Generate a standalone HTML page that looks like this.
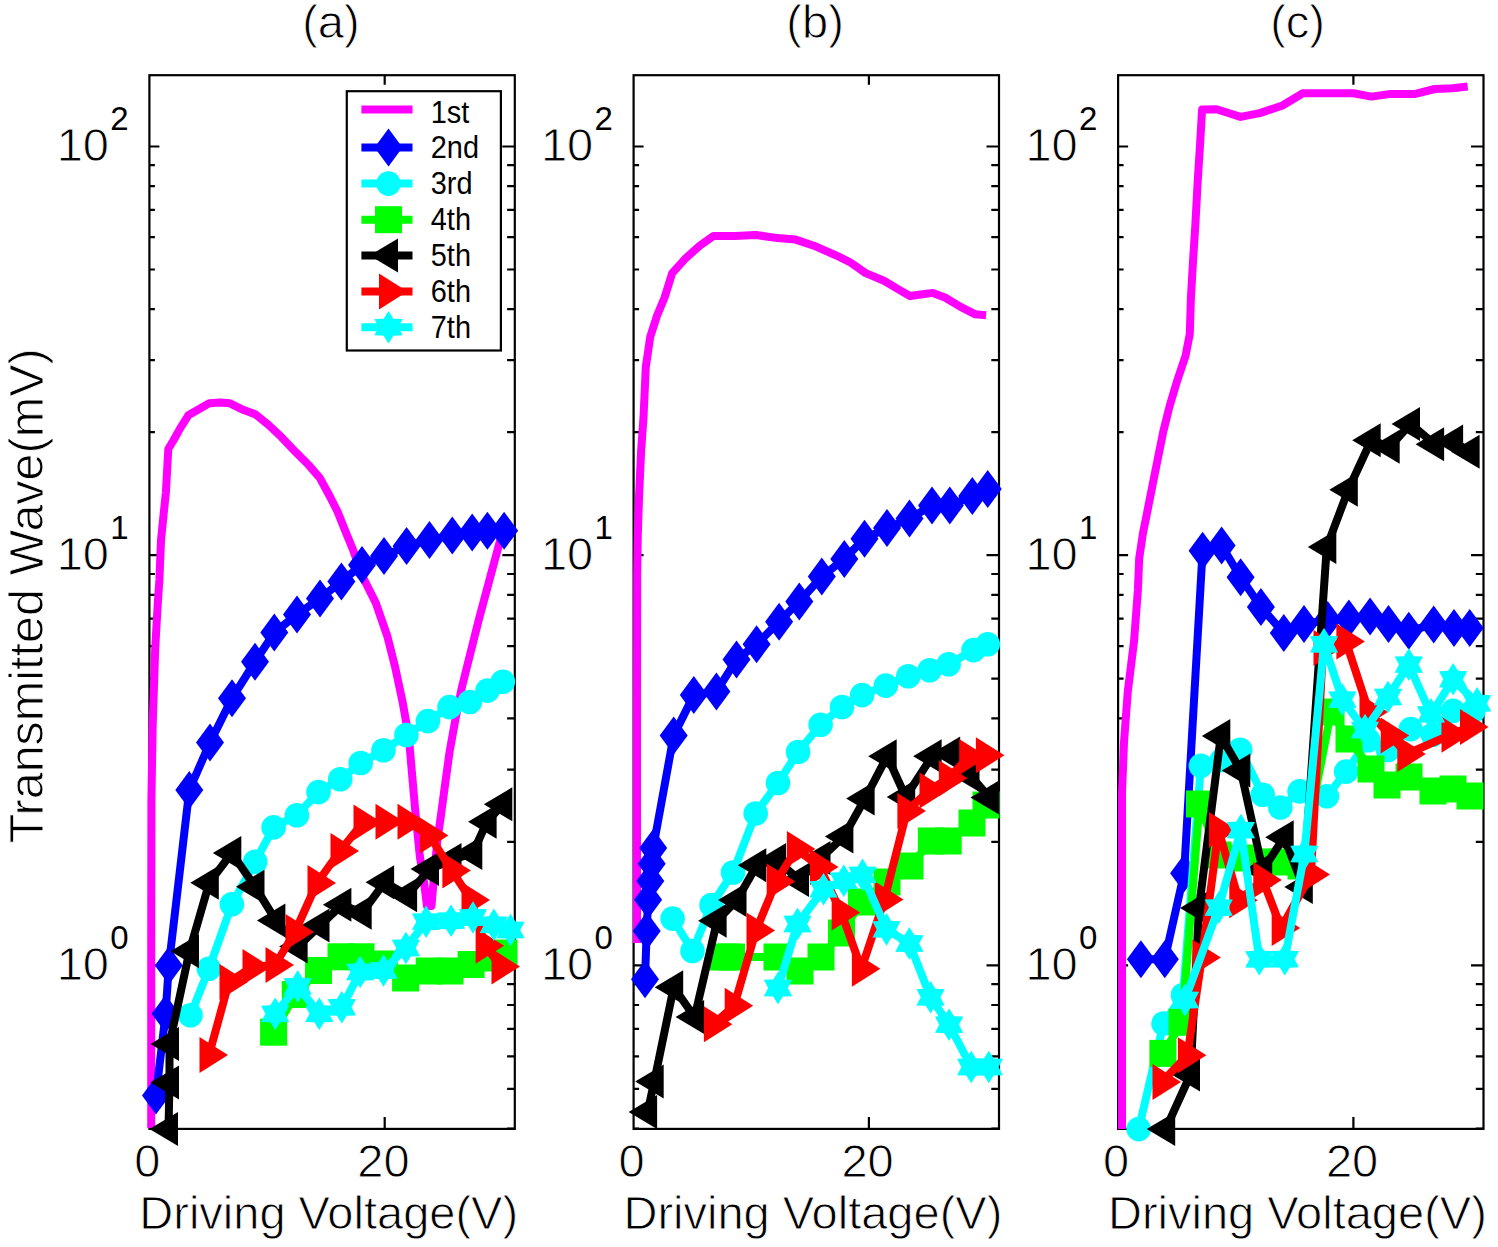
<!DOCTYPE html><html><head><meta charset="utf-8"><style>html,body{margin:0;padding:0;background:#fff;overflow:hidden}svg{display:block}</style></head><body><svg width="1498" height="1247" viewBox="0 0 1498 1247">
<defs>
<path id="dia" d="M0,-19 L14,0 L0,19 L-14,0Z"/>
<circle id="cir" cx="0" cy="0" r="12.3"/>
<rect id="sq" x="-13.5" y="-13.5" width="27" height="27"/>
<path id="tl" d="M-19,0 L9.5,-17 L9.5,17Z"/>
<path id="tr" d="M19,0 L-9.5,-18 L-9.5,18Z"/>
<path id="hex" d="M0.00,-16.30 L4.89,-8.47 L14.12,-8.15 L9.78,-0.00 L14.12,8.15 L4.89,8.47 L0.00,16.30 L-4.89,8.47 L-14.12,8.15 L-9.78,0.00 L-14.12,-8.15 L-4.89,-8.47Z"/>
</defs>
<rect x="0" y="0" width="1498" height="1247" fill="#fff"/>
<path d="M149.4,965.3h10 M514.8,965.3h-12.5 M149.4,555.2h10 M514.8,555.2h-12.5 M149.4,146.5h10 M514.8,146.5h-12.5 M149.4,1128.5h5.5 M514.8,1128.5h-7.7 M149.4,1088.8h5.5 M514.8,1088.8h-7.7 M149.4,1056.3h5.5 M514.8,1056.3h-7.7 M149.4,1028.8h5.5 M514.8,1028.8h-7.7 M149.4,1005.0h5.5 M514.8,1005.0h-7.7 M149.4,984.1h5.5 M514.8,984.1h-7.7 M149.4,841.8h5.5 M514.8,841.8h-7.7 M149.4,769.6h5.5 M514.8,769.6h-7.7 M149.4,718.4h5.5 M514.8,718.4h-7.7 M149.4,678.7h5.5 M514.8,678.7h-7.7 M149.4,646.2h5.5 M514.8,646.2h-7.7 M149.4,618.7h5.5 M514.8,618.7h-7.7 M149.4,594.9h5.5 M514.8,594.9h-7.7 M149.4,574.0h5.5 M514.8,574.0h-7.7 M149.4,432.2h5.5 M514.8,432.2h-7.7 M149.4,360.2h5.5 M514.8,360.2h-7.7 M149.4,309.1h5.5 M514.8,309.1h-7.7 M149.4,269.5h5.5 M514.8,269.5h-7.7 M149.4,237.2h5.5 M514.8,237.2h-7.7 M149.4,209.8h5.5 M514.8,209.8h-7.7 M149.4,186.1h5.5 M514.8,186.1h-7.7 M149.4,165.2h5.5 M514.8,165.2h-7.7 M384.7,1128.9v-12 M384.7,75.2v9.5" stroke="#000" stroke-width="2.2" fill="none"/>
<rect x="149.4" y="75.2" width="365.4" height="1053.7" fill="none" stroke="#000" stroke-width="2.2"/>
<text x="56.7" y="980.0" font-size="47" font-family="Liberation Sans, sans-serif" stroke="#fff" stroke-width="0.9">10</text>
<text x="110.3" y="949.0" font-size="33" font-family="Liberation Sans, sans-serif">0</text>
<text x="56.7" y="569.9" font-size="47" font-family="Liberation Sans, sans-serif" stroke="#fff" stroke-width="0.9">10</text>
<text x="110.3" y="538.9" font-size="33" font-family="Liberation Sans, sans-serif">1</text>
<text x="56.7" y="161.2" font-size="47" font-family="Liberation Sans, sans-serif" stroke="#fff" stroke-width="0.9">10</text>
<text x="110.3" y="130.2" font-size="33" font-family="Liberation Sans, sans-serif">2</text>
<text x="147.4" y="1176.5" font-size="47" text-anchor="middle" font-family="Liberation Sans, sans-serif" stroke="#fff" stroke-width="0.9">0</text>
<text x="383.4" y="1176.5" font-size="47" text-anchor="middle" font-family="Liberation Sans, sans-serif" stroke="#fff" stroke-width="0.9">20</text>
<text x="330.9" y="37.6" font-size="47" text-anchor="middle" font-family="Liberation Sans, sans-serif" stroke="#fff" stroke-width="0.9">(a)</text>
<text x="139.3" y="1229" font-size="47" font-family="Liberation Sans, sans-serif" stroke="#fff" stroke-width="0.9">Driving Voltage(V)</text>
<path d="M633.6,965.3h10 M999.0,965.3h-12.5 M633.6,555.2h10 M999.0,555.2h-12.5 M633.6,146.5h10 M999.0,146.5h-12.5 M633.6,1128.5h5.5 M999.0,1128.5h-7.7 M633.6,1088.8h5.5 M999.0,1088.8h-7.7 M633.6,1056.3h5.5 M999.0,1056.3h-7.7 M633.6,1028.8h5.5 M999.0,1028.8h-7.7 M633.6,1005.0h5.5 M999.0,1005.0h-7.7 M633.6,984.1h5.5 M999.0,984.1h-7.7 M633.6,841.8h5.5 M999.0,841.8h-7.7 M633.6,769.6h5.5 M999.0,769.6h-7.7 M633.6,718.4h5.5 M999.0,718.4h-7.7 M633.6,678.7h5.5 M999.0,678.7h-7.7 M633.6,646.2h5.5 M999.0,646.2h-7.7 M633.6,618.7h5.5 M999.0,618.7h-7.7 M633.6,594.9h5.5 M999.0,594.9h-7.7 M633.6,574.0h5.5 M999.0,574.0h-7.7 M633.6,432.2h5.5 M999.0,432.2h-7.7 M633.6,360.2h5.5 M999.0,360.2h-7.7 M633.6,309.1h5.5 M999.0,309.1h-7.7 M633.6,269.5h5.5 M999.0,269.5h-7.7 M633.6,237.2h5.5 M999.0,237.2h-7.7 M633.6,209.8h5.5 M999.0,209.8h-7.7 M633.6,186.1h5.5 M999.0,186.1h-7.7 M633.6,165.2h5.5 M999.0,165.2h-7.7 M868.9,1128.9v-12 M868.9,75.2v9.5" stroke="#000" stroke-width="2.2" fill="none"/>
<rect x="633.6" y="75.2" width="365.4" height="1053.7" fill="none" stroke="#000" stroke-width="2.2"/>
<text x="540.9" y="980.0" font-size="47" font-family="Liberation Sans, sans-serif" stroke="#fff" stroke-width="0.9">10</text>
<text x="594.5" y="949.0" font-size="33" font-family="Liberation Sans, sans-serif">0</text>
<text x="540.9" y="569.9" font-size="47" font-family="Liberation Sans, sans-serif" stroke="#fff" stroke-width="0.9">10</text>
<text x="594.5" y="538.9" font-size="33" font-family="Liberation Sans, sans-serif">1</text>
<text x="540.9" y="161.2" font-size="47" font-family="Liberation Sans, sans-serif" stroke="#fff" stroke-width="0.9">10</text>
<text x="594.5" y="130.2" font-size="33" font-family="Liberation Sans, sans-serif">2</text>
<text x="631.6" y="1176.5" font-size="47" text-anchor="middle" font-family="Liberation Sans, sans-serif" stroke="#fff" stroke-width="0.9">0</text>
<text x="867.6" y="1176.5" font-size="47" text-anchor="middle" font-family="Liberation Sans, sans-serif" stroke="#fff" stroke-width="0.9">20</text>
<text x="815.1" y="37.6" font-size="47" text-anchor="middle" font-family="Liberation Sans, sans-serif" stroke="#fff" stroke-width="0.9">(b)</text>
<text x="623.5" y="1229" font-size="47" font-family="Liberation Sans, sans-serif" stroke="#fff" stroke-width="0.9">Driving Voltage(V)</text>
<path d="M1118.1,965.3h10 M1483.5,965.3h-12.5 M1118.1,555.2h10 M1483.5,555.2h-12.5 M1118.1,146.5h10 M1483.5,146.5h-12.5 M1118.1,1128.5h5.5 M1483.5,1128.5h-7.7 M1118.1,1088.8h5.5 M1483.5,1088.8h-7.7 M1118.1,1056.3h5.5 M1483.5,1056.3h-7.7 M1118.1,1028.8h5.5 M1483.5,1028.8h-7.7 M1118.1,1005.0h5.5 M1483.5,1005.0h-7.7 M1118.1,984.1h5.5 M1483.5,984.1h-7.7 M1118.1,841.8h5.5 M1483.5,841.8h-7.7 M1118.1,769.6h5.5 M1483.5,769.6h-7.7 M1118.1,718.4h5.5 M1483.5,718.4h-7.7 M1118.1,678.7h5.5 M1483.5,678.7h-7.7 M1118.1,646.2h5.5 M1483.5,646.2h-7.7 M1118.1,618.7h5.5 M1483.5,618.7h-7.7 M1118.1,594.9h5.5 M1483.5,594.9h-7.7 M1118.1,574.0h5.5 M1483.5,574.0h-7.7 M1118.1,432.2h5.5 M1483.5,432.2h-7.7 M1118.1,360.2h5.5 M1483.5,360.2h-7.7 M1118.1,309.1h5.5 M1483.5,309.1h-7.7 M1118.1,269.5h5.5 M1483.5,269.5h-7.7 M1118.1,237.2h5.5 M1483.5,237.2h-7.7 M1118.1,209.8h5.5 M1483.5,209.8h-7.7 M1118.1,186.1h5.5 M1483.5,186.1h-7.7 M1118.1,165.2h5.5 M1483.5,165.2h-7.7 M1353.4,1128.9v-12 M1353.4,75.2v9.5" stroke="#000" stroke-width="2.2" fill="none"/>
<rect x="1118.1" y="75.2" width="365.4" height="1053.7" fill="none" stroke="#000" stroke-width="2.2"/>
<text x="1025.4" y="980.0" font-size="47" font-family="Liberation Sans, sans-serif" stroke="#fff" stroke-width="0.9">10</text>
<text x="1079.0" y="949.0" font-size="33" font-family="Liberation Sans, sans-serif">0</text>
<text x="1025.4" y="569.9" font-size="47" font-family="Liberation Sans, sans-serif" stroke="#fff" stroke-width="0.9">10</text>
<text x="1079.0" y="538.9" font-size="33" font-family="Liberation Sans, sans-serif">1</text>
<text x="1025.4" y="161.2" font-size="47" font-family="Liberation Sans, sans-serif" stroke="#fff" stroke-width="0.9">10</text>
<text x="1079.0" y="130.2" font-size="33" font-family="Liberation Sans, sans-serif">2</text>
<text x="1116.1" y="1176.5" font-size="47" text-anchor="middle" font-family="Liberation Sans, sans-serif" stroke="#fff" stroke-width="0.9">0</text>
<text x="1352.1" y="1176.5" font-size="47" text-anchor="middle" font-family="Liberation Sans, sans-serif" stroke="#fff" stroke-width="0.9">20</text>
<text x="1297.6" y="37.6" font-size="47" text-anchor="middle" font-family="Liberation Sans, sans-serif" stroke="#fff" stroke-width="0.9">(c)</text>
<text x="1108.0" y="1229" font-size="47" font-family="Liberation Sans, sans-serif" stroke="#fff" stroke-width="0.9">Driving Voltage(V)</text>
<text transform="translate(42.5,843.3) rotate(-90)" font-size="48.5" font-family="Liberation Sans, sans-serif" stroke="#fff" stroke-width="0.9">Transmitted Wave(mV)</text>
<polyline points="151.2,1128.3 151.2,960.0 151.4,800.0 152.7,725.0 155.2,648.8 157.8,603.0 159.4,580.0 161.0,540.4 163.4,516.3 165.9,492.3 167.5,463.4 168.3,449.0 173.1,441.0 180.3,428.1 188.3,415.3 197.9,409.7 209.2,403.3 220.4,402.5 230.0,403.3 241.2,408.9 255.7,414.5 268.5,424.9 281.3,436.9 295.8,452.2 308.6,465.0 319.8,477.8 329.4,495.5 337.5,511.5 343.9,527.6 353.3,550.6 363.2,577.8 375.9,603.1 387.3,636.1 395.0,666.5 402.6,702.0 408.9,737.6 415.0,808.0 419.8,856.0 424.0,882.0 427.0,906.0 431.5,906.0 433.5,882.0 437.4,840.0 440.5,818.6 445.0,785.1 449.6,751.6 455.7,718.0 461.8,687.6 469.4,657.1 478.6,620.5 489.2,580.9 499.9,541.3 503.0,536.0" fill="none" stroke="#ff00ff" stroke-width="8" stroke-linejoin="round" stroke-linecap="butt"/>
<polyline points="156.0,1095.4 165.6,1013.7 168.8,965.6 189.3,790.0 210.0,742.6 232.0,698.3 255.0,661.7 274.3,632.6 297.0,614.5 320.0,598.6 341.4,581.4 362.0,565.0 384.0,556.0 406.6,546.1 429.5,540.0 452.3,535.4 472.2,532.4 487.4,530.8 504.1,530.8" fill="none" stroke="#0000ff" stroke-width="8" stroke-linejoin="round" stroke-linecap="butt"/>
<use href="#dia" x="156.0" y="1095.4" fill="#0000ff"/>
<use href="#dia" x="165.6" y="1013.7" fill="#0000ff"/>
<use href="#dia" x="168.8" y="965.6" fill="#0000ff"/>
<use href="#dia" x="189.3" y="790.0" fill="#0000ff"/>
<use href="#dia" x="210.0" y="742.6" fill="#0000ff"/>
<use href="#dia" x="232.0" y="698.3" fill="#0000ff"/>
<use href="#dia" x="255.0" y="661.7" fill="#0000ff"/>
<use href="#dia" x="274.3" y="632.6" fill="#0000ff"/>
<use href="#dia" x="297.0" y="614.5" fill="#0000ff"/>
<use href="#dia" x="320.0" y="598.6" fill="#0000ff"/>
<use href="#dia" x="341.4" y="581.4" fill="#0000ff"/>
<use href="#dia" x="362.0" y="565.0" fill="#0000ff"/>
<use href="#dia" x="384.0" y="556.0" fill="#0000ff"/>
<use href="#dia" x="406.6" y="546.1" fill="#0000ff"/>
<use href="#dia" x="429.5" y="540.0" fill="#0000ff"/>
<use href="#dia" x="452.3" y="535.4" fill="#0000ff"/>
<use href="#dia" x="472.2" y="532.4" fill="#0000ff"/>
<use href="#dia" x="487.4" y="530.8" fill="#0000ff"/>
<use href="#dia" x="504.1" y="530.8" fill="#0000ff"/>
<polyline points="190.5,1015.3 208.9,968.8 231.9,904.3 255.2,861.8 273.6,827.4 296.9,815.3 318.5,792.1 340.2,779.2 360.7,763.0 383.5,750.3 406.4,735.0 427.9,721.1 449.5,707.1 469.8,702.0 487.5,690.6 502.8,681.8" fill="none" stroke="#00ffff" stroke-width="8" stroke-linejoin="round" stroke-linecap="butt"/>
<use href="#cir" x="190.5" y="1015.3" fill="#00ffff"/>
<use href="#cir" x="208.9" y="968.8" fill="#00ffff"/>
<use href="#cir" x="231.9" y="904.3" fill="#00ffff"/>
<use href="#cir" x="255.2" y="861.8" fill="#00ffff"/>
<use href="#cir" x="273.6" y="827.4" fill="#00ffff"/>
<use href="#cir" x="296.9" y="815.3" fill="#00ffff"/>
<use href="#cir" x="318.5" y="792.1" fill="#00ffff"/>
<use href="#cir" x="340.2" y="779.2" fill="#00ffff"/>
<use href="#cir" x="360.7" y="763.0" fill="#00ffff"/>
<use href="#cir" x="383.5" y="750.3" fill="#00ffff"/>
<use href="#cir" x="406.4" y="735.0" fill="#00ffff"/>
<use href="#cir" x="427.9" y="721.1" fill="#00ffff"/>
<use href="#cir" x="449.5" y="707.1" fill="#00ffff"/>
<use href="#cir" x="469.8" y="702.0" fill="#00ffff"/>
<use href="#cir" x="487.5" y="690.6" fill="#00ffff"/>
<use href="#cir" x="502.8" y="681.8" fill="#00ffff"/>
<polyline points="273.6,1032.2 295.3,994.5 318.5,970.5 341.0,956.8 361.0,956.8 384.3,964.0 405.6,978.0 429.2,971.0 450.0,971.0 471.1,964.5 490.0,958.0 504.0,953.0" fill="none" stroke="#00ff00" stroke-width="8" stroke-linejoin="round" stroke-linecap="butt"/>
<use href="#sq" x="273.6" y="1032.2" fill="#00ff00"/>
<use href="#sq" x="295.3" y="994.5" fill="#00ff00"/>
<use href="#sq" x="318.5" y="970.5" fill="#00ff00"/>
<use href="#sq" x="341.0" y="956.8" fill="#00ff00"/>
<use href="#sq" x="361.0" y="956.8" fill="#00ff00"/>
<use href="#sq" x="384.3" y="964.0" fill="#00ff00"/>
<use href="#sq" x="405.6" y="978.0" fill="#00ff00"/>
<use href="#sq" x="429.2" y="971.0" fill="#00ff00"/>
<use href="#sq" x="450.0" y="971.0" fill="#00ff00"/>
<use href="#sq" x="471.1" y="964.5" fill="#00ff00"/>
<use href="#sq" x="490.0" y="958.0" fill="#00ff00"/>
<use href="#sq" x="504.0" y="953.0" fill="#00ff00"/>
<polyline points="168.5,1129.0 169.5,1082.6 169.5,1044.0 189.5,951.2 209.3,882.7 231.8,853.0 255.0,886.7 275.9,920.4 298.1,946.4 320.0,925.6 341.9,904.8 362.2,912.8 384.6,882.3 407.6,895.2 429.5,869.0 452.0,860.0 472.8,853.0 487.1,821.7 502.8,804.3" fill="none" stroke="#000000" stroke-width="8" stroke-linejoin="round" stroke-linecap="butt"/>
<use href="#tl" x="168.5" y="1129.0" fill="#000000"/>
<use href="#tl" x="169.5" y="1082.6" fill="#000000"/>
<use href="#tl" x="169.5" y="1044.0" fill="#000000"/>
<use href="#tl" x="189.5" y="951.2" fill="#000000"/>
<use href="#tl" x="209.3" y="882.7" fill="#000000"/>
<use href="#tl" x="231.8" y="853.0" fill="#000000"/>
<use href="#tl" x="255.0" y="886.7" fill="#000000"/>
<use href="#tl" x="275.9" y="920.4" fill="#000000"/>
<use href="#tl" x="298.1" y="946.4" fill="#000000"/>
<use href="#tl" x="320.0" y="925.6" fill="#000000"/>
<use href="#tl" x="341.9" y="904.8" fill="#000000"/>
<use href="#tl" x="362.2" y="912.8" fill="#000000"/>
<use href="#tl" x="384.6" y="882.3" fill="#000000"/>
<use href="#tl" x="407.6" y="895.2" fill="#000000"/>
<use href="#tl" x="429.5" y="869.0" fill="#000000"/>
<use href="#tl" x="452.0" y="860.0" fill="#000000"/>
<use href="#tl" x="472.8" y="853.0" fill="#000000"/>
<use href="#tl" x="487.1" y="821.7" fill="#000000"/>
<use href="#tl" x="502.8" y="804.3" fill="#000000"/>
<polyline points="209.0,1055.0 229.0,982.0 252.0,967.0 275.0,965.0 295.0,932.0 317.0,883.0 340.0,851.0 363.0,822.5 385.0,821.7 407.0,821.7 429.4,835.4 451.9,870.6 471.0,900.0 485.1,945.7 501.0,966.5" fill="none" stroke="#ff0000" stroke-width="8" stroke-linejoin="round" stroke-linecap="butt"/>
<use href="#tr" x="209.0" y="1055.0" fill="#ff0000"/>
<use href="#tr" x="229.0" y="982.0" fill="#ff0000"/>
<use href="#tr" x="252.0" y="967.0" fill="#ff0000"/>
<use href="#tr" x="275.0" y="965.0" fill="#ff0000"/>
<use href="#tr" x="295.0" y="932.0" fill="#ff0000"/>
<use href="#tr" x="317.0" y="883.0" fill="#ff0000"/>
<use href="#tr" x="340.0" y="851.0" fill="#ff0000"/>
<use href="#tr" x="363.0" y="822.5" fill="#ff0000"/>
<use href="#tr" x="385.0" y="821.7" fill="#ff0000"/>
<use href="#tr" x="407.0" y="821.7" fill="#ff0000"/>
<use href="#tr" x="429.4" y="835.4" fill="#ff0000"/>
<use href="#tr" x="451.9" y="870.6" fill="#ff0000"/>
<use href="#tr" x="471.0" y="900.0" fill="#ff0000"/>
<use href="#tr" x="485.1" y="945.7" fill="#ff0000"/>
<use href="#tr" x="501.0" y="966.5" fill="#ff0000"/>
<polyline points="275.2,1013.8 297.7,986.5 319.3,1013.8 341.8,1007.3 360.2,972.0 383.5,970.5 405.9,948.0 426.1,921.7 451.1,920.7 473.0,917.5 493.8,924.8 510.5,930.0" fill="none" stroke="#00ffff" stroke-width="8" stroke-linejoin="round" stroke-linecap="butt"/>
<use href="#hex" x="275.2" y="1013.8" fill="#00ffff"/>
<use href="#hex" x="297.7" y="986.5" fill="#00ffff"/>
<use href="#hex" x="319.3" y="1013.8" fill="#00ffff"/>
<use href="#hex" x="341.8" y="1007.3" fill="#00ffff"/>
<use href="#hex" x="360.2" y="972.0" fill="#00ffff"/>
<use href="#hex" x="383.5" y="970.5" fill="#00ffff"/>
<use href="#hex" x="405.9" y="948.0" fill="#00ffff"/>
<use href="#hex" x="426.1" y="921.7" fill="#00ffff"/>
<use href="#hex" x="451.1" y="920.7" fill="#00ffff"/>
<use href="#hex" x="473.0" y="917.5" fill="#00ffff"/>
<use href="#hex" x="493.8" y="924.8" fill="#00ffff"/>
<use href="#hex" x="510.5" y="930.0" fill="#00ffff"/>
<polyline points="637.0,943.0 637.0,720.0 637.2,575.6 637.8,535.3 639.1,495.0 641.1,451.3 643.5,417.6 645.8,367.2 650.2,337.0 657.0,315.8 664.6,297.5 672.2,273.1 686.0,257.9 699.7,245.7 713.4,236.0 734.7,236.0 756.0,235.0 777.4,238.1 795.6,239.6 813.9,245.7 838.3,256.4 850.5,262.5 865.7,273.1 884.0,280.8 899.3,289.9 909.9,296.0 920.6,294.5 932.8,292.9 945.0,297.5 960.2,306.7 975.4,314.3 986.1,315.2" fill="none" stroke="#ff00ff" stroke-width="8" stroke-linejoin="round" stroke-linecap="butt"/>
<polyline points="645.0,979.3 646.7,930.9 648.1,899.8 650.3,881.1 651.7,863.7 653.2,847.9 673.7,735.4 693.8,695.1 716.4,691.6 736.5,659.6 756.6,644.2 779.1,621.7 799.3,601.5 821.8,576.6 844.3,558.9 864.5,538.7 887.0,528.1 909.5,518.6 932.0,505.5 949.8,505.5 972.3,496.1 987.7,489.0" fill="none" stroke="#0000ff" stroke-width="8" stroke-linejoin="round" stroke-linecap="butt"/>
<use href="#dia" x="645.0" y="979.3" fill="#0000ff"/>
<use href="#dia" x="646.7" y="930.9" fill="#0000ff"/>
<use href="#dia" x="648.1" y="899.8" fill="#0000ff"/>
<use href="#dia" x="650.3" y="881.1" fill="#0000ff"/>
<use href="#dia" x="651.7" y="863.7" fill="#0000ff"/>
<use href="#dia" x="653.2" y="847.9" fill="#0000ff"/>
<use href="#dia" x="673.7" y="735.4" fill="#0000ff"/>
<use href="#dia" x="693.8" y="695.1" fill="#0000ff"/>
<use href="#dia" x="716.4" y="691.6" fill="#0000ff"/>
<use href="#dia" x="736.5" y="659.6" fill="#0000ff"/>
<use href="#dia" x="756.6" y="644.2" fill="#0000ff"/>
<use href="#dia" x="779.1" y="621.7" fill="#0000ff"/>
<use href="#dia" x="799.3" y="601.5" fill="#0000ff"/>
<use href="#dia" x="821.8" y="576.6" fill="#0000ff"/>
<use href="#dia" x="844.3" y="558.9" fill="#0000ff"/>
<use href="#dia" x="864.5" y="538.7" fill="#0000ff"/>
<use href="#dia" x="887.0" y="528.1" fill="#0000ff"/>
<use href="#dia" x="909.5" y="518.6" fill="#0000ff"/>
<use href="#dia" x="932.0" y="505.5" fill="#0000ff"/>
<use href="#dia" x="949.8" y="505.5" fill="#0000ff"/>
<use href="#dia" x="972.3" y="496.1" fill="#0000ff"/>
<use href="#dia" x="987.7" y="489.0" fill="#0000ff"/>
<polyline points="672.6,918.6 692.5,951.0 711.5,905.0 733.0,872.5 755.7,813.5 778.0,783.0 798.1,752.0 820.6,724.7 842.0,707.0 862.1,695.1 885.8,685.6 908.3,676.2 929.6,670.2 948.6,664.3 973.5,650.1 987.7,644.2" fill="none" stroke="#00ffff" stroke-width="8" stroke-linejoin="round" stroke-linecap="butt"/>
<use href="#cir" x="672.6" y="918.6" fill="#00ffff"/>
<use href="#cir" x="692.5" y="951.0" fill="#00ffff"/>
<use href="#cir" x="711.5" y="905.0" fill="#00ffff"/>
<use href="#cir" x="733.0" y="872.5" fill="#00ffff"/>
<use href="#cir" x="755.7" y="813.5" fill="#00ffff"/>
<use href="#cir" x="778.0" y="783.0" fill="#00ffff"/>
<use href="#cir" x="798.1" y="752.0" fill="#00ffff"/>
<use href="#cir" x="820.6" y="724.7" fill="#00ffff"/>
<use href="#cir" x="842.0" y="707.0" fill="#00ffff"/>
<use href="#cir" x="862.1" y="695.1" fill="#00ffff"/>
<use href="#cir" x="885.8" y="685.6" fill="#00ffff"/>
<use href="#cir" x="908.3" y="676.2" fill="#00ffff"/>
<use href="#cir" x="929.6" y="670.2" fill="#00ffff"/>
<use href="#cir" x="948.6" y="664.3" fill="#00ffff"/>
<use href="#cir" x="973.5" y="650.1" fill="#00ffff"/>
<use href="#cir" x="987.7" y="644.2" fill="#00ffff"/>
<polyline points="723.5,957.0 731.5,957.0 777.0,957.0 800.0,971.0 821.0,957.0 841.5,933.0 861.4,902.0 887.0,882.0 910.0,866.0 931.4,841.0 948.2,841.0 972.0,823.0 986.0,805.0" fill="none" stroke="#00ff00" stroke-width="8" stroke-linejoin="round" stroke-linecap="butt"/>
<use href="#sq" x="723.5" y="957.0" fill="#00ff00"/>
<use href="#sq" x="731.5" y="957.0" fill="#00ff00"/>
<use href="#sq" x="777.0" y="957.0" fill="#00ff00"/>
<use href="#sq" x="800.0" y="971.0" fill="#00ff00"/>
<use href="#sq" x="821.0" y="957.0" fill="#00ff00"/>
<use href="#sq" x="841.5" y="933.0" fill="#00ff00"/>
<use href="#sq" x="861.4" y="902.0" fill="#00ff00"/>
<use href="#sq" x="887.0" y="882.0" fill="#00ff00"/>
<use href="#sq" x="910.0" y="866.0" fill="#00ff00"/>
<use href="#sq" x="931.4" y="841.0" fill="#00ff00"/>
<use href="#sq" x="948.2" y="841.0" fill="#00ff00"/>
<use href="#sq" x="972.0" y="823.0" fill="#00ff00"/>
<use href="#sq" x="986.0" y="805.0" fill="#00ff00"/>
<polyline points="647.6,1112.0 654.2,1081.6 673.7,987.3 694.6,1017.0 717.1,920.8 737.0,900.0 756.8,865.2 776.6,860.0 799.5,880.0 821.0,858.0 843.9,836.4 865.1,798.5 887.2,756.2 905.7,797.0 932.1,756.2 950.7,753.5 970.0,775.0 989.5,797.6" fill="none" stroke="#000000" stroke-width="8" stroke-linejoin="round" stroke-linecap="butt"/>
<use href="#tl" x="647.6" y="1112.0" fill="#000000"/>
<use href="#tl" x="654.2" y="1081.6" fill="#000000"/>
<use href="#tl" x="673.7" y="987.3" fill="#000000"/>
<use href="#tl" x="694.6" y="1017.0" fill="#000000"/>
<use href="#tl" x="717.1" y="920.8" fill="#000000"/>
<use href="#tl" x="737.0" y="900.0" fill="#000000"/>
<use href="#tl" x="756.8" y="865.2" fill="#000000"/>
<use href="#tl" x="776.6" y="860.0" fill="#000000"/>
<use href="#tl" x="799.5" y="880.0" fill="#000000"/>
<use href="#tl" x="821.0" y="858.0" fill="#000000"/>
<use href="#tl" x="843.9" y="836.4" fill="#000000"/>
<use href="#tl" x="865.1" y="798.5" fill="#000000"/>
<use href="#tl" x="887.2" y="756.2" fill="#000000"/>
<use href="#tl" x="905.7" y="797.0" fill="#000000"/>
<use href="#tl" x="932.1" y="756.2" fill="#000000"/>
<use href="#tl" x="950.7" y="753.5" fill="#000000"/>
<use href="#tl" x="970.0" y="775.0" fill="#000000"/>
<use href="#tl" x="989.5" y="797.6" fill="#000000"/>
<polyline points="713.4,1024.2 734.2,1005.7 756.0,930.5 776.2,881.5 796.4,848.9 819.5,866.9 841.2,912.4 861.4,968.7 884.5,899.4 906.9,810.9 929.0,790.6 948.4,778.2 968.7,757.0 985.4,755.3" fill="none" stroke="#ff0000" stroke-width="8" stroke-linejoin="round" stroke-linecap="butt"/>
<use href="#tr" x="713.4" y="1024.2" fill="#ff0000"/>
<use href="#tr" x="734.2" y="1005.7" fill="#ff0000"/>
<use href="#tr" x="756.0" y="930.5" fill="#ff0000"/>
<use href="#tr" x="776.2" y="881.5" fill="#ff0000"/>
<use href="#tr" x="796.4" y="848.9" fill="#ff0000"/>
<use href="#tr" x="819.5" y="866.9" fill="#ff0000"/>
<use href="#tr" x="841.2" y="912.4" fill="#ff0000"/>
<use href="#tr" x="861.4" y="968.7" fill="#ff0000"/>
<use href="#tr" x="884.5" y="899.4" fill="#ff0000"/>
<use href="#tr" x="906.9" y="810.9" fill="#ff0000"/>
<use href="#tr" x="929.0" y="790.6" fill="#ff0000"/>
<use href="#tr" x="948.4" y="778.2" fill="#ff0000"/>
<use href="#tr" x="968.7" y="757.0" fill="#ff0000"/>
<use href="#tr" x="985.4" y="755.3" fill="#ff0000"/>
<polyline points="778.0,988.0 797.5,924.0 823.5,889.3 843.8,880.7 862.5,874.9 886.5,929.4 909.4,943.5 930.6,997.3 949.1,1024.7 971.2,1067.0 988.8,1067.0" fill="none" stroke="#00ffff" stroke-width="8" stroke-linejoin="round" stroke-linecap="butt"/>
<use href="#hex" x="778.0" y="988.0" fill="#00ffff"/>
<use href="#hex" x="797.5" y="924.0" fill="#00ffff"/>
<use href="#hex" x="823.5" y="889.3" fill="#00ffff"/>
<use href="#hex" x="843.8" y="880.7" fill="#00ffff"/>
<use href="#hex" x="862.5" y="874.9" fill="#00ffff"/>
<use href="#hex" x="886.5" y="929.4" fill="#00ffff"/>
<use href="#hex" x="909.4" y="943.5" fill="#00ffff"/>
<use href="#hex" x="930.6" y="997.3" fill="#00ffff"/>
<use href="#hex" x="949.1" y="1024.7" fill="#00ffff"/>
<use href="#hex" x="971.2" y="1067.0" fill="#00ffff"/>
<use href="#hex" x="988.8" y="1067.0" fill="#00ffff"/>
<polyline points="1122.0,1128.9 1122.0,950.0 1122.0,793.0 1124.0,742.2 1127.8,691.5 1134.1,640.7 1137.9,590.0 1139.2,558.3 1143.0,533.0 1148.1,507.6 1153.1,482.2 1158.2,456.8 1163.3,431.5 1169.6,406.1 1177.2,380.7 1185.5,356.0 1189.8,334.0 1190.9,298.0 1193.1,260.0 1195.4,224.0 1197.6,183.0 1199.9,147.0 1202.1,109.5 1216.5,109.3 1240.6,116.9 1259.7,113.1 1282.5,105.5 1302.8,93.3 1328.2,93.3 1353.5,93.3 1371.3,96.6 1389.0,94.1 1414.4,94.1 1434.7,89.0 1452.5,88.3 1467.7,86.5" fill="none" stroke="#ff00ff" stroke-width="8" stroke-linejoin="round" stroke-linecap="butt"/>
<polyline points="1140.9,959.2 1164.8,959.2 1184.1,873.3 1202.6,550.7 1221.6,545.6 1240.6,577.3 1260.9,607.0 1283.8,633.1 1304.0,624.0 1327.7,620.0 1348.9,618.4 1370.1,616.6 1388.5,624.0 1408.8,630.8 1433.7,624.4 1454.0,628.0 1469.7,628.0" fill="none" stroke="#0000ff" stroke-width="8" stroke-linejoin="round" stroke-linecap="butt"/>
<use href="#dia" x="1140.9" y="959.2" fill="#0000ff"/>
<use href="#dia" x="1164.8" y="959.2" fill="#0000ff"/>
<use href="#dia" x="1184.1" y="873.3" fill="#0000ff"/>
<use href="#dia" x="1202.6" y="550.7" fill="#0000ff"/>
<use href="#dia" x="1221.6" y="545.6" fill="#0000ff"/>
<use href="#dia" x="1240.6" y="577.3" fill="#0000ff"/>
<use href="#dia" x="1260.9" y="607.0" fill="#0000ff"/>
<use href="#dia" x="1283.8" y="633.1" fill="#0000ff"/>
<use href="#dia" x="1304.0" y="624.0" fill="#0000ff"/>
<use href="#dia" x="1327.7" y="620.0" fill="#0000ff"/>
<use href="#dia" x="1348.9" y="618.4" fill="#0000ff"/>
<use href="#dia" x="1370.1" y="616.6" fill="#0000ff"/>
<use href="#dia" x="1388.5" y="624.0" fill="#0000ff"/>
<use href="#dia" x="1408.8" y="630.8" fill="#0000ff"/>
<use href="#dia" x="1433.7" y="624.4" fill="#0000ff"/>
<use href="#dia" x="1454.0" y="628.0" fill="#0000ff"/>
<use href="#dia" x="1469.7" y="628.0" fill="#0000ff"/>
<polyline points="1138.7,1129.1 1163.5,1023.5 1183.0,995.0 1200.9,765.8 1222.0,760.0 1240.2,749.7 1262.7,794.7 1280.3,807.5 1299.6,791.4 1326.9,796.3 1346.1,771.6 1368.3,740.2 1388.0,750.0 1410.7,729.1 1432.8,734.7 1453.1,710.7 1473.4,710.7" fill="none" stroke="#00ffff" stroke-width="8" stroke-linejoin="round" stroke-linecap="butt"/>
<use href="#cir" x="1138.7" y="1129.1" fill="#00ffff"/>
<use href="#cir" x="1163.5" y="1023.5" fill="#00ffff"/>
<use href="#cir" x="1183.0" y="995.0" fill="#00ffff"/>
<use href="#cir" x="1200.9" y="765.8" fill="#00ffff"/>
<use href="#cir" x="1222.0" y="760.0" fill="#00ffff"/>
<use href="#cir" x="1240.2" y="749.7" fill="#00ffff"/>
<use href="#cir" x="1262.7" y="794.7" fill="#00ffff"/>
<use href="#cir" x="1280.3" y="807.5" fill="#00ffff"/>
<use href="#cir" x="1299.6" y="791.4" fill="#00ffff"/>
<use href="#cir" x="1326.9" y="796.3" fill="#00ffff"/>
<use href="#cir" x="1346.1" y="771.6" fill="#00ffff"/>
<use href="#cir" x="1368.3" y="740.2" fill="#00ffff"/>
<use href="#cir" x="1388.0" y="750.0" fill="#00ffff"/>
<use href="#cir" x="1410.7" y="729.1" fill="#00ffff"/>
<use href="#cir" x="1432.8" y="734.7" fill="#00ffff"/>
<use href="#cir" x="1453.1" y="710.7" fill="#00ffff"/>
<use href="#cir" x="1473.4" y="710.7" fill="#00ffff"/>
<polyline points="1162.9,1053.4 1182.1,1022.3 1199.5,804.0 1218.0,855.0 1240.0,858.0 1262.0,862.0 1281.9,862.0 1301.0,866.0 1331.0,712.0 1349.0,739.0 1371.0,769.0 1387.0,785.0 1409.0,777.0 1433.0,791.0 1453.0,789.0 1470.0,796.0" fill="none" stroke="#00ff00" stroke-width="8" stroke-linejoin="round" stroke-linecap="butt"/>
<use href="#sq" x="1162.9" y="1053.4" fill="#00ff00"/>
<use href="#sq" x="1182.1" y="1022.3" fill="#00ff00"/>
<use href="#sq" x="1199.5" y="804.0" fill="#00ff00"/>
<use href="#sq" x="1218.0" y="855.0" fill="#00ff00"/>
<use href="#sq" x="1240.0" y="858.0" fill="#00ff00"/>
<use href="#sq" x="1262.0" y="862.0" fill="#00ff00"/>
<use href="#sq" x="1281.9" y="862.0" fill="#00ff00"/>
<use href="#sq" x="1301.0" y="866.0" fill="#00ff00"/>
<use href="#sq" x="1331.0" y="712.0" fill="#00ff00"/>
<use href="#sq" x="1349.0" y="739.0" fill="#00ff00"/>
<use href="#sq" x="1371.0" y="769.0" fill="#00ff00"/>
<use href="#sq" x="1387.0" y="785.0" fill="#00ff00"/>
<use href="#sq" x="1409.0" y="777.0" fill="#00ff00"/>
<use href="#sq" x="1433.0" y="791.0" fill="#00ff00"/>
<use href="#sq" x="1453.0" y="789.0" fill="#00ff00"/>
<use href="#sq" x="1470.0" y="796.0" fill="#00ff00"/>
<polyline points="1165.7,1129.1 1190.5,1074.5 1199.0,908.0 1220.8,736.1 1240.8,770.6 1262.7,870.0 1284.2,837.2 1303.3,887.0 1326.8,546.9 1348.3,489.8 1371.2,440.3 1390.2,446.7 1410.5,423.9 1434.6,444.2 1453.6,441.6 1470.1,451.8" fill="none" stroke="#000000" stroke-width="8" stroke-linejoin="round" stroke-linecap="butt"/>
<use href="#tl" x="1165.7" y="1129.1" fill="#000000"/>
<use href="#tl" x="1190.5" y="1074.5" fill="#000000"/>
<use href="#tl" x="1199.0" y="908.0" fill="#000000"/>
<use href="#tl" x="1220.8" y="736.1" fill="#000000"/>
<use href="#tl" x="1240.8" y="770.6" fill="#000000"/>
<use href="#tl" x="1262.7" y="870.0" fill="#000000"/>
<use href="#tl" x="1284.2" y="837.2" fill="#000000"/>
<use href="#tl" x="1303.3" y="887.0" fill="#000000"/>
<use href="#tl" x="1326.8" y="546.9" fill="#000000"/>
<use href="#tl" x="1348.3" y="489.8" fill="#000000"/>
<use href="#tl" x="1371.2" y="440.3" fill="#000000"/>
<use href="#tl" x="1390.2" y="446.7" fill="#000000"/>
<use href="#tl" x="1410.5" y="423.9" fill="#000000"/>
<use href="#tl" x="1434.6" y="444.2" fill="#000000"/>
<use href="#tl" x="1453.6" y="441.6" fill="#000000"/>
<use href="#tl" x="1470.1" y="451.8" fill="#000000"/>
<polyline points="1162.0,1081.9 1187.4,1055.2 1201.9,957.4 1218.5,830.0 1238.8,900.2 1262.8,880.0 1281.2,928.0 1311.0,874.5 1323.0,648.0 1345.9,641.5 1369.0,712.0 1390.2,735.6 1406.8,754.0 1451.0,734.7 1469.5,727.0" fill="none" stroke="#ff0000" stroke-width="8" stroke-linejoin="round" stroke-linecap="butt"/>
<use href="#tr" x="1162.0" y="1081.9" fill="#ff0000"/>
<use href="#tr" x="1187.4" y="1055.2" fill="#ff0000"/>
<use href="#tr" x="1201.9" y="957.4" fill="#ff0000"/>
<use href="#tr" x="1218.5" y="830.0" fill="#ff0000"/>
<use href="#tr" x="1238.8" y="900.2" fill="#ff0000"/>
<use href="#tr" x="1262.8" y="880.0" fill="#ff0000"/>
<use href="#tr" x="1281.2" y="928.0" fill="#ff0000"/>
<use href="#tr" x="1311.0" y="874.5" fill="#ff0000"/>
<use href="#tr" x="1323.0" y="648.0" fill="#ff0000"/>
<use href="#tr" x="1345.9" y="641.5" fill="#ff0000"/>
<use href="#tr" x="1369.0" y="712.0" fill="#ff0000"/>
<use href="#tr" x="1390.2" y="735.6" fill="#ff0000"/>
<use href="#tr" x="1406.8" y="754.0" fill="#ff0000"/>
<use href="#tr" x="1451.0" y="734.7" fill="#ff0000"/>
<use href="#tr" x="1469.5" y="727.0" fill="#ff0000"/>
<polyline points="1185.0,1000.0 1218.7,907.6 1240.9,830.1 1259.3,959.3 1284.8,959.2 1304.4,854.0 1324.0,644.3 1342.4,699.6 1365.0,730.0 1388.0,697.0 1408.8,664.6 1431.0,714.4 1453.1,679.3 1477.1,703.3" fill="none" stroke="#00ffff" stroke-width="8" stroke-linejoin="round" stroke-linecap="butt"/>
<use href="#hex" x="1185.0" y="1000.0" fill="#00ffff"/>
<use href="#hex" x="1218.7" y="907.6" fill="#00ffff"/>
<use href="#hex" x="1240.9" y="830.1" fill="#00ffff"/>
<use href="#hex" x="1259.3" y="959.3" fill="#00ffff"/>
<use href="#hex" x="1284.8" y="959.2" fill="#00ffff"/>
<use href="#hex" x="1304.4" y="854.0" fill="#00ffff"/>
<use href="#hex" x="1324.0" y="644.3" fill="#00ffff"/>
<use href="#hex" x="1342.4" y="699.6" fill="#00ffff"/>
<use href="#hex" x="1365.0" y="730.0" fill="#00ffff"/>
<use href="#hex" x="1388.0" y="697.0" fill="#00ffff"/>
<use href="#hex" x="1408.8" y="664.6" fill="#00ffff"/>
<use href="#hex" x="1431.0" y="714.4" fill="#00ffff"/>
<use href="#hex" x="1453.1" y="679.3" fill="#00ffff"/>
<use href="#hex" x="1477.1" y="703.3" fill="#00ffff"/>
<rect x="346.8" y="91.2" width="154.1" height="259.3" fill="#fff" stroke="#000" stroke-width="2.2"/>
<line x1="361.4" y1="109.6" x2="412.5" y2="109.6" stroke="#ff00ff" stroke-width="8"/>
<text transform="translate(430.8,122.5) scale(0.98,1.07)" font-size="29.5" font-family="Liberation Sans, sans-serif">1st</text>
<line x1="361.4" y1="147.5" x2="412.5" y2="147.5" stroke="#0000ff" stroke-width="8"/>
<use href="#dia" x="388.5" y="147.5" fill="#0000ff"/>
<text transform="translate(430.8,158.4) scale(0.98,1.07)" font-size="29.5" font-family="Liberation Sans, sans-serif">2nd</text>
<line x1="361.4" y1="183.6" x2="412.5" y2="183.6" stroke="#00ffff" stroke-width="8"/>
<use href="#cir" x="388.5" y="183.6" fill="#00ffff"/>
<text transform="translate(430.8,194.3) scale(0.98,1.07)" font-size="29.5" font-family="Liberation Sans, sans-serif">3rd</text>
<line x1="361.4" y1="219.7" x2="412.5" y2="219.7" stroke="#00ff00" stroke-width="8"/>
<use href="#sq" x="388.5" y="219.7" fill="#00ff00"/>
<text transform="translate(430.8,230.2) scale(0.98,1.07)" font-size="29.5" font-family="Liberation Sans, sans-serif">4th</text>
<line x1="361.4" y1="255.5" x2="412.5" y2="255.5" stroke="#000000" stroke-width="8"/>
<use href="#tl" x="388.5" y="255.5" fill="#000000"/>
<text transform="translate(430.8,266.1) scale(0.98,1.07)" font-size="29.5" font-family="Liberation Sans, sans-serif">5th</text>
<line x1="361.4" y1="291.4" x2="412.5" y2="291.4" stroke="#ff0000" stroke-width="8"/>
<use href="#tr" x="388.5" y="291.4" fill="#ff0000"/>
<text transform="translate(430.8,302.0) scale(0.98,1.07)" font-size="29.5" font-family="Liberation Sans, sans-serif">6th</text>
<line x1="361.4" y1="327.2" x2="412.5" y2="327.2" stroke="#00ffff" stroke-width="8"/>
<use href="#hex" x="388.5" y="327.2" fill="#00ffff"/>
<text transform="translate(430.8,337.9) scale(0.98,1.07)" font-size="29.5" font-family="Liberation Sans, sans-serif">7th</text>
</svg></body></html>
